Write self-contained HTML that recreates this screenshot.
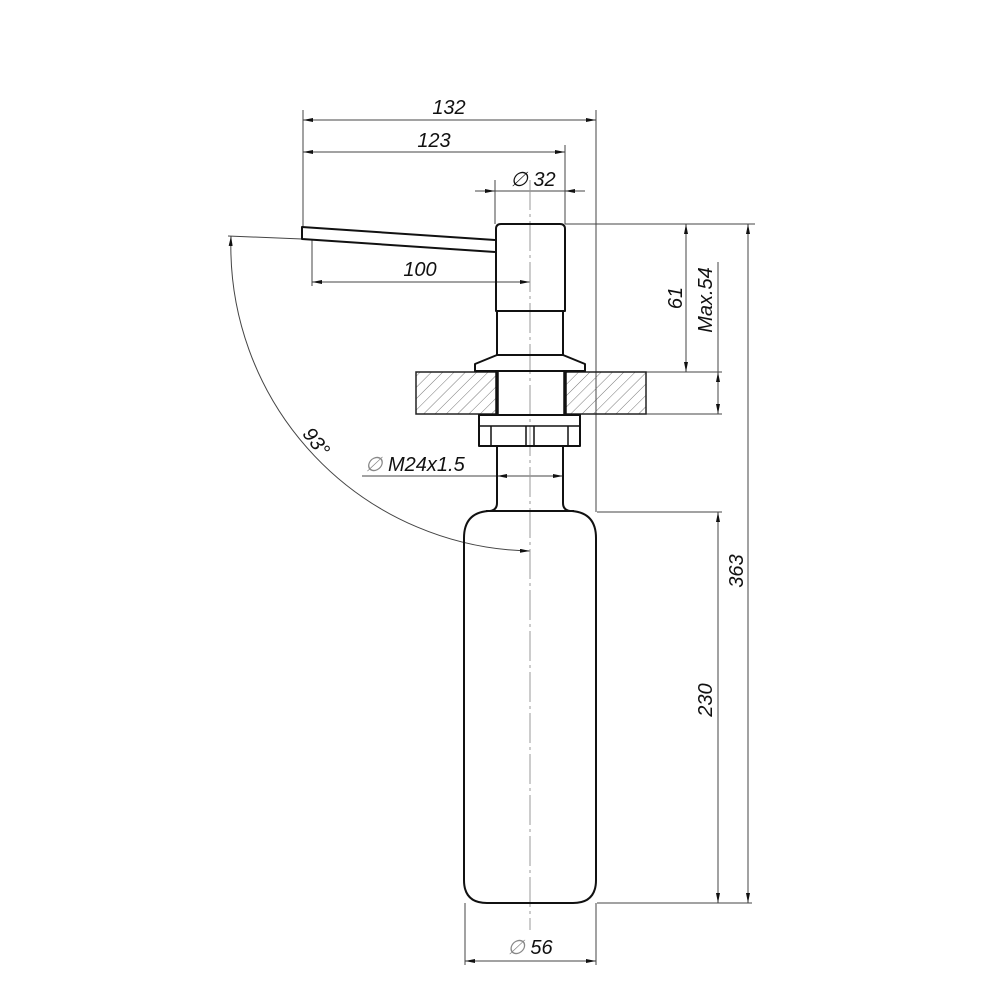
<!DOCTYPE html>
<html><head><style>html,body{margin:0;padding:0;background:#fff}svg{display:block}</style></head>
<body>
<svg width="1000" height="1000" viewBox="0 0 1000 1000" xmlns="http://www.w3.org/2000/svg" font-family="Liberation Sans, sans-serif" font-style="italic">
<defs>
<pattern id="h" width="8" height="8" patternUnits="userSpaceOnUse" patternTransform="rotate(45)">
<line x1="0" y1="0" x2="0" y2="8" stroke="#555" stroke-width="0.8"/></pattern>
<marker id="a" viewBox="0 0 10 4" refX="10" refY="2" markerWidth="10" markerHeight="4" orient="auto-start-reverse" markerUnits="userSpaceOnUse"><path d="M0,0 L10,2 L0,4Z" fill="#111"/></marker>
</defs>
<g stroke="#444" stroke-width="1" fill="none">
<line x1="303" y1="110" x2="303" y2="227"/>
<line x1="596" y1="110" x2="596" y2="512"/>
<line x1="565" y1="145" x2="565" y2="224"/>
<line x1="495" y1="180" x2="495" y2="224"/>
<line x1="312" y1="240" x2="312" y2="286"/>
<line x1="565" y1="224" x2="755" y2="224"/>
<line x1="646" y1="372" x2="722" y2="372"/>
<line x1="646" y1="414" x2="722" y2="414"/>
<line x1="597" y1="512" x2="722" y2="512"/>
<line x1="597" y1="903" x2="752" y2="903"/>
<line x1="465" y1="903" x2="465" y2="965"/>
<line x1="596" y1="903" x2="596" y2="965"/>
<line x1="303" y1="120" x2="596" y2="120" marker-start="url(#a)" marker-end="url(#a)"/>
<line x1="303" y1="152" x2="565" y2="152" marker-start="url(#a)" marker-end="url(#a)"/>
<line x1="475" y1="191" x2="495" y2="191" marker-end="url(#a)"/>
<line x1="495" y1="191" x2="565" y2="191"/>
<line x1="585" y1="191" x2="565" y2="191" marker-end="url(#a)"/>
<line x1="312" y1="282" x2="530" y2="282" marker-start="url(#a)" marker-end="url(#a)"/>
<line x1="686" y1="224" x2="686" y2="372" marker-start="url(#a)" marker-end="url(#a)"/>
<line x1="718" y1="262" x2="718" y2="372"/>
<line x1="718" y1="372" x2="718" y2="414" marker-start="url(#a)" marker-end="url(#a)"/>
<line x1="748" y1="224" x2="748" y2="903" marker-start="url(#a)" marker-end="url(#a)"/>
<line x1="718" y1="512" x2="718" y2="903" marker-start="url(#a)" marker-end="url(#a)"/>
<line x1="465" y1="961" x2="596" y2="961" marker-start="url(#a)" marker-end="url(#a)"/>
<line x1="362" y1="476" x2="563" y2="476"/>
<line x1="525" y1="476" x2="497" y2="476" marker-end="url(#a)"/>
<line x1="535" y1="476" x2="563" y2="476" marker-end="url(#a)"/>
<line x1="228" y1="236" x2="302" y2="239"/>
<path d="M231,236 A305,305 0 0 0 530,551" marker-start="url(#a)" marker-end="url(#a)"/>
<line x1="530" y1="180" x2="530" y2="930" stroke="#999" stroke-dasharray="30,4,3,4"/>
</g>
<rect x="416" y="372" width="81" height="42" fill="url(#h)" stroke="#222" stroke-width="1.5"/>
<rect x="565" y="372" width="81" height="42" fill="url(#h)" stroke="#222" stroke-width="1.5"/>
<g stroke="#111" stroke-width="2" fill="none" stroke-linejoin="round">
<path d="M495,240 L302,227 L302,239 L495,252"/>
<path d="M496,311 L496,229 Q496,224 501,224 L560,224 Q565,224 565,229 L565,311 Z"/>
<path d="M497,311 L497,355 M563,311 L563,355"/>
<path d="M497,355 L563,355 L585,364 L585,371 L475,371 L475,364 Z"/>
<line x1="497" y1="372" x2="497" y2="414" stroke-width="3.5"/>
<line x1="565" y1="372" x2="565" y2="414" stroke-width="3.5"/>
<rect x="479" y="415" width="101" height="31"/>
<path d="M479,426 L580,426 M491,426 L491,446 M526,426 L526,446 M534,426 L534,446 M568,426 L568,446" stroke-width="1.5"/>
<path d="M497,446 L497,503 Q497,510 490,511 M563,446 L563,503 Q563,510 570,511"/>
<path d="M486,511 L574,511"/>
<path d="M488,511 Q464,513 464,538 L464,880 Q464,903 487,903 L573,903 Q596,903 596,880 L596,538 Q596,513 572,511"/>
</g>
<g fill="#111" font-size="20">
<text x="449" y="114" text-anchor="middle">132</text>
<text x="434" y="147" text-anchor="middle">123</text>
<text x="533" y="186" text-anchor="middle">∅ 32</text>
<text x="420" y="276" text-anchor="middle">100</text>
<text x="365" y="471"><tspan fill="#888">∅</tspan> M24x1.5</text>
<text x="530" y="954" text-anchor="middle"><tspan fill="#888">∅</tspan> 56</text>
<text transform="translate(682,298) rotate(-90)" text-anchor="middle">61</text>
<text transform="translate(712,300) rotate(-90)" text-anchor="middle">Max.54</text>
<text transform="translate(743,571) rotate(-90)" text-anchor="middle">363</text>
<text transform="translate(712,700) rotate(-90)" text-anchor="middle">230</text>
<text transform="translate(311,446) rotate(52)" text-anchor="middle">93°</text>
</g>
</svg>
</body></html>
